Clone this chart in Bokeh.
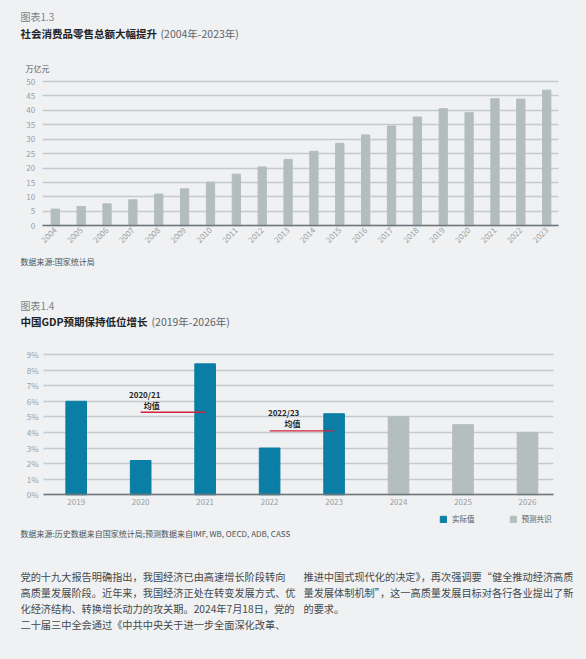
import math
from bokeh.plotting import figure
from bokeh.models import (Legend, LegendItem, Range1d, LinearAxis, Grid,
                          PrintfTickFormatter, FixedTicker)
from bokeh.embed import file_html
from bokeh.resources import INLINE
from bokeh.core.properties import value

FONT = "Noto Sans CJK SC"
BG = "#eff1f2"
BAR_GRAY = "#b4bdbd"
BLUE = "#0a7ea4"
FC_GRAY = "#b5bebe"
GRID = "#c4cacd"
AXIS = "#6f777b"
TICK = "#9a9fa3"

# ---------------- data ----------------
years1 = list(range(2004, 2024))
retail = [5.8, 6.7, 7.6, 9.0, 11.0, 12.8, 15.1, 17.9, 20.4, 23.0,
          25.8, 28.6, 31.5, 34.6, 37.7, 40.6, 39.2, 44.0, 43.9, 47.0]
y1_ticks = [0, 5, 10, 15, 20, 25, 30, 35, 40, 45, 50]

years2 = [2019, 2020, 2021, 2022, 2023, 2024, 2025, 2026]
actual_years = [2019, 2020, 2021, 2022, 2023]
actual_vals = [6.0, 2.2, 8.4, 3.0, 5.2]
fc_years = [2024, 2025, 2026]
fc_vals = [5.0, 4.5, 4.0]
y2_ticks = [0, 1, 2, 3, 4, 5, 6, 7, 8, 9]
avg_starts = [2020, 2022]
avg_ends = [2021, 2023]
avg_names = ["2020/21", "2022/23"]

para_left = [
    "党的十九大报告明确指出，我国经济已由高速增长阶段转向",
    "高质量发展阶段。近年来，我国经济正处在转变发展方式、优",
    "化经济结构、转换增长动力的攻关期。2024年7月18日，党的",
    "二十届三中全会通过《中共中央关于进一步全面深化改革、",
]
para_right = [
    "推进中国式现代化的决定》，再次强调要“健全推动经济高质",
    "量发展体制机制”，这一高质量发展目标对各行各业提出了新",
    "的要求。",
]

# ---------------- page geometry (pixels) ----------------
W, H = 586, 659
# chart 1: first/last bar centre, plot edges, value 0 / top
C1_X0, C1_X1, C1_L, C1_R, C1_T, C1_B = 54.8, 546.2, 41.7, 558.3, 81, 225.3
# chart 2
C2_X0, C2_X1, C2_L, C2_R, C2_T, C2_B = 75.7, 527.0, 43, 553.3, 354, 494.3

k1x = (C1_X1 - C1_X0) / (years1[-1] - years1[0])
k1y = (C1_B - C1_T) / (y1_ticks[-1] - y1_ticks[0])
k2x = (C2_X1 - C2_X0) / (years2[-1] - years2[0])
k2y = (C2_B - C2_T) / (y2_ticks[-1] - y2_ticks[0])

x1_lo = years1[0] - (C1_X0 - C1_L) / k1x
x1_hi = years1[-1] + (C1_R - C1_X1) / k1x
x2_lo = years2[0] - (C2_X0 - C2_L) / k2x
x2_hi = years2[-1] + (C2_R - C2_X1) / k2x

x_range = Range1d(years1[0] - C1_X0 / k1x, years1[-1] + (W - C1_X1) / k1x)
y_range = Range1d(-(H - C1_B) / k1y, y1_ticks[-1] + C1_T / k1y)

p = figure(width=W, height=H, x_range=x_range, y_range=y_range,
           x_axis_type=None, y_axis_type=None, output_backend="svg",
           toolbar_location=None, title_location=None, min_border=0)
p.extra_x_ranges = {
    "x2": Range1d(years2[0] - C2_X0 / k2x, years2[-1] + (W - C2_X1) / k2x),
    "px": Range1d(0, W),
}
p.extra_y_ranges = {
    "y2": Range1d(-(H - C2_B) / k2y, y2_ticks[-1] + C2_T / k2y),
    "py": Range1d(H, 0),
}
p.background_fill_color = BG
p.border_fill_color = BG
p.outline_line_color = None

has_cross = "cross_bounds" in Grid.properties()


def add_chart_axes(xr, yr, xticks, yticks, xlo, xhi, ylo, yhi, yfmt, rotate, xstandoff, ystandoff):
    g = Grid(dimension=1, ticker=FixedTicker(ticks=yticks),
             x_range_name=xr, y_range_name=yr,
             grid_line_color=GRID, grid_line_width=1.3)
    if has_cross:
        g.cross_bounds = (xlo, xhi)
        p.add_layout(g)
    else:
        p.segment(x0=[xlo] * len(yticks), x1=[xhi] * len(yticks), y0=yticks, y1=yticks,
                  line_color=GRID, line_width=1.3, x_range_name=xr, y_range_name=yr)
    ay = LinearAxis(x_range_name=xr, y_range_name=yr, fixed_location=xlo,
                    ticker=FixedTicker(ticks=yticks), bounds=(ylo, yhi),
                    formatter=PrintfTickFormatter(format=yfmt),
                    axis_line_color=None, major_tick_line_color=None,
                    major_tick_out=0, minor_tick_line_color=None,
                    major_label_text_color=TICK, major_label_text_font=FONT,
                    major_label_text_font_size="8px",
                    major_label_standoff=ystandoff)
    p.add_layout(ay, "left")
    ax = LinearAxis(x_range_name=xr, y_range_name=yr, fixed_location=ylo,
                    ticker=FixedTicker(ticks=xticks), bounds=(xlo, xhi),
                    formatter=PrintfTickFormatter(format="%d"),
                    axis_line_color=AXIS, axis_line_width=1.3,
                    major_tick_line_color=None, major_tick_out=0,
                    minor_tick_line_color=None,
                    major_label_text_color=TICK, major_label_text_font=FONT,
                    major_label_text_font_size="8px",
                    major_label_standoff=xstandoff)
    if rotate:
        ax.major_label_orientation = math.pi / 4
    p.add_layout(ax, "below")


# ---------------- chart 1 ----------------
add_chart_axes("default", "default", years1, y1_ticks, x1_lo, x1_hi,
               y1_ticks[0], y1_ticks[-1], "%d", True, 3, 7)
p.vbar(x=years1, top=retail, width=0.32, color=BAR_GRAY)

# ---------------- chart 2 ----------------
add_chart_axes("x2", "y2", years2, y2_ticks, x2_lo, x2_hi,
               y2_ticks[0], y2_ticks[-1], "%d%%", False, 4, 5)
r_act = p.vbar(x=actual_years, top=actual_vals, width=0.32, color=BLUE,
               x_range_name="x2", y_range_name="y2")
r_fc = p.vbar(x=fc_years, top=fc_vals, width=0.32, color=FC_GRAY,
              x_range_name="x2", y_range_name="y2")

act = dict(zip(actual_years, actual_vals))
avgs = [round((act[a] + act[b]) / 2, 2) for a, b in zip(avg_starts, avg_ends)]
p.segment(x0=avg_starts, y0=avgs, x1=avg_ends, y1=avgs,
          line_color="#d0243a", line_width=1.4, x_range_name="x2", y_range_name="y2")
name_dx = [4, 14]
mean_dx = [11, 23]
for i in range(2):
    p.text(x=[avg_starts[i]], y=[avgs[i]], text=[avg_names[i]],
           x_offset=name_dx[i], y_offset=-18, text_align="center",
           text_baseline="middle", text_font=value(FONT),
           text_font_style="bold", text_font_size="8px", text_color="#222629",
           x_range_name="x2", y_range_name="y2")
    p.text(x=[avg_starts[i]], y=[avgs[i]], text=["均值"],
           x_offset=mean_dx[i], y_offset=-7, text_align="center",
           text_baseline="middle", text_font=value(FONT),
           text_font_style="bold", text_font_size="8px", text_color="#222629",
           x_range_name="x2", y_range_name="y2")

leg = Legend(items=[LegendItem(label="实际值", renderers=[r_act]),
                    LegendItem(label="预测共识", renderers=[r_fc])],
             orientation="horizontal", location=(439, H - 524),
             glyph_width=8, glyph_height=8, label_height=8, label_width=10,
             label_standoff=5, spacing=34, padding=0, margin=0,
             border_line_color=None, background_fill_alpha=0,
             label_text_font=FONT, label_text_font_size="7.5px",
             label_text_color="#555a5e")
p.add_layout(leg)


# ---------------- page texts (pixel coordinates) ----------------
def txt(X, Y, s, size, color, bold=False, align="left"):
    p.text(x=[X], y=[Y], text=[s], x_range_name="px", y_range_name="py",
           text_font=value(FONT), text_font_size=f"{size}px", text_color=color,
           text_font_style="bold" if bold else "normal",
           text_align=align, text_baseline="middle")


txt(20, 16, "图表1.3", 10, "#7d8286")
txt(20, 32.5, "社会消费品零售总额大幅提升", 10.5, "#1f2326", bold=True)
txt(160, 32.5, "(2004年-2023年)", 10.5, "#60656a")
txt(37, 67.5, "万亿元", 8, "#53585c", align="center")
txt(20, 261, "数据来源:国家统计局", 8, "#4d5256")

txt(20, 304.7, "图表1.4", 10, "#7d8286")
txt(20, 320.7, "中国GDP预期保持低位增长", 10.5, "#1f2326", bold=True)
txt(151, 320.7, "(2019年-2026年)", 10.5, "#60656a")
txt(20, 533.3, "数据来源:历史数据来自国家统计局;预测数据来自IMF, WB, OECD, ADB, CASS",
    8, "#4d5256")

p.text(x=[20] * len(para_left), y=[575.7 + 16.2 * i for i in range(len(para_left))],
       text=para_left, x_range_name="px", y_range_name="py",
       text_font=value(FONT), text_font_size="10.2px", text_color="#45494c",
       text_baseline="middle")
p.text(x=[303] * len(para_right), y=[575.7 + 16.2 * i for i in range(len(para_right))],
       text=para_right, x_range_name="px", y_range_name="py",
       text_font=value(FONT), text_font_size="10.2px", text_color="#45494c",
       text_baseline="middle")

html = file_html(p, INLINE, title="chart")
html = html.replace("<head>", "<head><style>html,body{margin:0;padding:0;overflow:hidden;background:%s}</style>" % BG, 1)
open("out.html", "w").write(html)
